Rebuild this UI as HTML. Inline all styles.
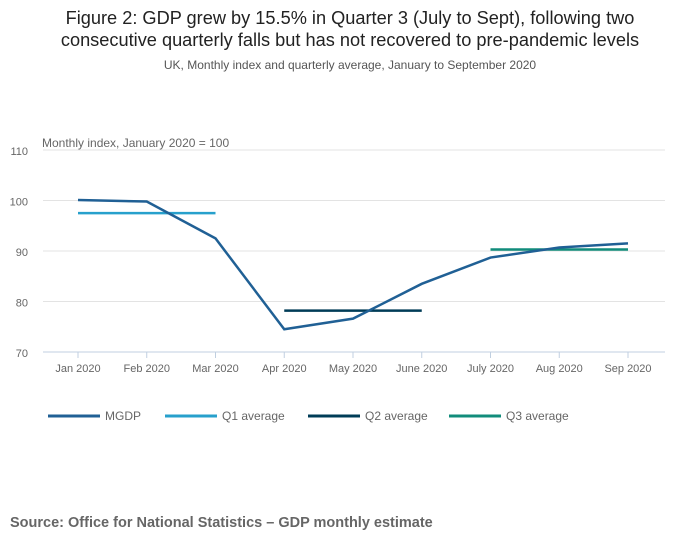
<!DOCTYPE html>
<html><head><meta charset="utf-8"><style>
body{margin:0;background:#fff;font-family:"Liberation Sans",sans-serif;}
svg text{font-family:"Liberation Sans",sans-serif;}
</style></head><body>
<svg width="700" height="549">
<text x="350" y="24" text-anchor="middle" font-size="18.2" fill="#222">Figure 2: GDP grew by 15.5% in Quarter 3 (July to Sept), following two</text>
<text x="350" y="46" text-anchor="middle" font-size="18.2" fill="#222">consecutive quarterly falls but has not recovered to pre-pandemic levels</text>
<text x="350" y="69" text-anchor="middle" font-size="12" fill="#555">UK, Monthly index and quarterly average, January to September 2020</text>
<text x="42" y="147" font-size="12" fill="#666">Monthly index, January 2020 = 100</text>
<g id="grid"></g><g id="xaxis"></g><g id="series"></g>
<g id="legend"></g>
<text x="10" y="527" font-size="14.5" font-weight="bold" fill="#666">Source: Office for National Statistics – GDP monthly estimate</text>
</svg>
<script>
const categories=["Jan 2020","Feb 2020","Mar 2020","Apr 2020","May 2020","June 2020","July 2020","Aug 2020","Sep 2020"];
const mgdp=[100.1,99.8,92.5,74.5,76.6,83.5,88.7,90.7,91.5];
const q1Avg=[97.5,97.5,97.5,null,null,null,null,null,null];
const q2Avg=[null,null,null,78.2,78.2,78.2,null,null,null];
const q3Avg=[null,null,null,null,null,null,90.3,90.3,90.3];
const yTicks=[70,80,90,100,110];
const NS="http://www.w3.org/2000/svg";
const y=v=>352-(v-70)*(202/40);
const x=i=>78+i*68.75;
function mk(t,a,p){const e=document.createElementNS(NS,t);for(const k in a)e.setAttribute(k,a[k]);p.appendChild(e);return e;}
const grid=document.getElementById('grid');
yTicks.forEach(t=>{
 const l=mk('line',{x1:43,x2:665,y1:y(t),y2:y(t),stroke:t==70?'#c0cfe0':'#e3e3e3','stroke-width':1},grid);
 
 
 const tx=mk('text',{x:28,y:y(t)+5,'font-size':11,fill:'#666','text-anchor':'end'},grid);tx.textContent=t;
 
 
});
const xa=document.getElementById('xaxis');
categories.forEach((c,i)=>{
 const tk=mk('line',{x1:x(i),x2:x(i),y1:352,y2:358,stroke:'#c0cfe0'},xa);
 
 
 const tx=mk('text',{x:x(i),y:372,'font-size':11,fill:'#666','text-anchor':'middle'},xa);tx.textContent=c;
 
 
});
const sg=document.getElementById('series');
function line(vals,col,name){
 const pts=[];vals.forEach((v,i)=>{if(v!=null)pts.push(x(i)+','+y(v));});
 const p=mk('polyline',{points:pts.join(' '),fill:'none',stroke:col,'stroke-width':2.5},sg);
 
 
}
line(q1Avg,'#27a0cc','q1-average-line');
line(q2Avg,'#003c57','q2-average-line');
line(q3Avg,'#118c7b','q3-average-line');
line(mgdp,'#206095','mgdp-line');
const lg=document.getElementById('legend');
[["MGDP","#206095",48],["Q1 average","#27a0cc",165],["Q2 average","#003c57",308],["Q3 average","#118c7b",449]].forEach(([n,c,lx])=>{
 const g=mk('g',{},lg);
 
 
 mk('line',{x1:lx,x2:lx+52,y1:416,y2:416,stroke:c,'stroke-width':3},g);
 const t=mk('text',{x:lx+57,y:420,'font-size':12,fill:'#666'},g);t.textContent=n;
});
</script>
</body></html>
